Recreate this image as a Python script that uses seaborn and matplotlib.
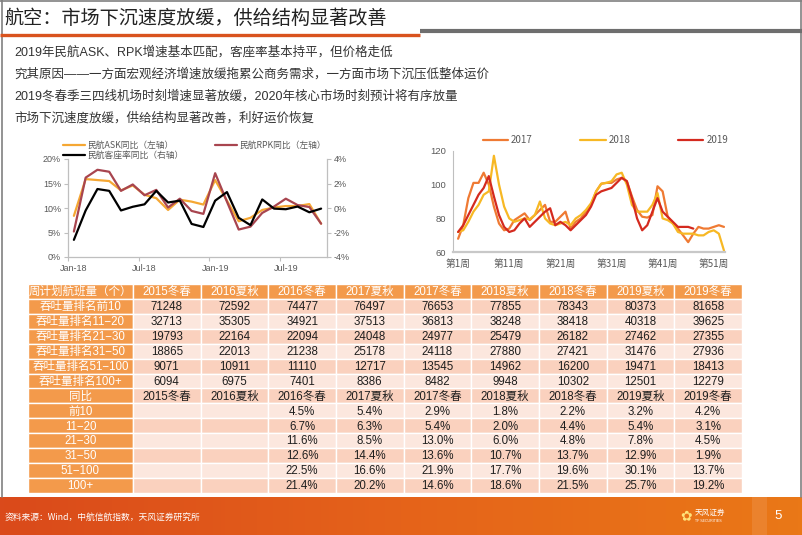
import numpy as np
import pandas as pd
import seaborn as sns
import matplotlib.pyplot as plt
from matplotlib.patches import Rectangle
from matplotlib.lines import Line2D
from matplotlib.colors import LinearSegmentedColormap

W, H = 802, 535
CJK = ['Noto Sans CJK SC', 'DejaVu Sans']
LAT = ['Liberation Sans', 'Noto Sans CJK SC', 'DejaVu Sans']

#%% text
title = '航空：市场下沉速度放缓，供给结构显著改善'
bullets = ['2019年民航ASK、RPK增速基本匹配，客座率基本持平，但价格走低',
           '究其原因——一方面宏观经济增速放缓拖累公商务需求，一方面市场下沉压低整体运价',
           '2019冬春季三四线机场时刻增速显著放缓，2020年核心市场时刻预计将有序放量',
           '市场下沉速度放缓，供给结构显著改善，利好运价恢复']
source = '资料来源：Wind，中航信航指数，天风证券研究所'

#%% left chart: monthly yoy, Jan-18 .. Oct-19
months = pd.date_range('2018-01-01', periods=22, freq='MS').strftime('%b-%y').tolist()
ask = [8.4, 15.9, 15.7, 15.5, 13.6, 14.6, 12.7, 12.0, 9.6, 11.7, 11.3, 10.7,
       15.7, 11.5, 7.3, 8.0, 9.6, 10.1, 10.4, 10.4, 10.8, 6.8]
rpk = [5.2, 16.2, 17.8, 17.4, 13.5, 14.8, 12.6, 13.7, 10.1, 11.9, 9.4, 8.8,
       17.1, 11.3, 5.6, 6.2, 9.0, 10.3, 11.9, 10.6, 10.2, 6.8]
load = [-2.6, -0.2, 1.55, 1.4, -0.2, 0.1, 0.3, 1.4, 0.45, 0.6, -1.3, -1.55,
        0.6, 1.3, -0.8, -1.4, 0.7, -0.05, -0.1, 0.12, -0.35, -0.05]
left_labels = ['民航ASK同比（左轴）', '民航RPK同比（左轴）', '民航客座率同比（右轴）']

#%% right chart: weekly index
w2017 = [68, 76, 92, 101, 101, 107, 100, 87, 77, 73, 74, 79, 81, 83, 79, 82, 85, 88,
         78, 78, 81, 84, 74, 78, 80, 84, 88, 96, 100.5, 101, 101, 103, 104, 102, 93,
         85, 81, 80.5, 82, 99, 96, 81, 77, 74, 70, 66, 71, 75, 74, 74, 75, 76, 75]
w2018 = [72, 73, 78, 84, 88, 94, 96, 117, 100, 87, 80, 78, 79, 80, 79.5, 82, 90, 80,
         77, 76, 77, 78, 76, 80, 82, 85, 89, 96, 100.5, 101, 102, 106, 107, 100, 88,
         84, 84, 84, 88, 95, 80, 79, 77, 72, 71, 71, 71, 70, 70, 72, 73, 71, 61]
w2019 = [72, 76, 82, 88, 94, 98, 105, 93, 82, 75, 72, 73, 77, 80, 75, 78, 81, 84,
         86, 76, 78, 76, 73, 76, 79, 82, 87, 94, 96, 97, 98, 101, 104, 102, 92,
         80, 73, 76, 84, 92, 84, 81, 78, 75, 75, 75, 74]
week_ticks = [1, 11, 21, 31, 41, 51]

#%% table
periods = ['2015冬春', '2016夏秋', '2016冬春', '2017夏秋', '2017冬春',
           '2018夏秋', '2018冬春', '2019夏秋', '2019冬春']
groups = ['前10', '11−20', '21−30', '31−50', '51−100', '100+']
top10 = [71248, 72592, 74477, 76497, 76653, 77855, 78343, 80373, 81658]
r11_20 = [32713, 35305, 34921, 37513, 36813, 38248, 38418, 40318, 39625]
r21_30 = [19793, 22164, 22094, 24048, 24977, 25479, 26182, 27462, 27355]
r31_50 = [18865, 22013, 21238, 25178, 24118, 27880, 27421, 31476, 27936]
r51_100 = [9071, 10911, 11110, 12717, 13545, 14962, 16200, 19471, 18413]
r100p = [6094, 6975, 7401, 8386, 8482, 9948, 10302, 12501, 12279]
yoy_top10 = [4.5, 5.4, 2.9, 1.8, 2.2, 3.2, 4.2]
yoy_11_20 = [6.7, 6.3, 5.4, 2.0, 4.4, 5.4, 3.1]
yoy_21_30 = [11.6, 8.5, 13.0, 6.0, 4.8, 7.8, 4.5]
yoy_31_50 = [12.6, 14.4, 13.6, 10.7, 13.7, 12.9, 1.9]
yoy_51_100 = [22.5, 16.6, 21.9, 17.7, 19.6, 30.1, 13.7]
yoy_100p = [21.4, 20.2, 14.6, 18.6, 21.5, 25.7, 19.2]

#%% figure
sns.set_style('white')
plt.rcParams['font.family'] = CJK
plt.rcParams['axes.unicode_minus'] = False

fig = plt.figure(figsize=(W / 100, H / 100), dpi=100)


def px(x0, y0, x1, y1):
    return [x0 / W, 1 - y1 / H, (x1 - x0) / W, (y1 - y0) / H]


bg = fig.add_axes([0, 0, 1, 1], zorder=0)
cmap = LinearSegmentedColormap.from_list('foot', ['#DA4A1B', '#E5631A', '#EA7817'])
bg.imshow(np.linspace(0, 1, 200).reshape(1, -1), extent=(0, W, H, 497),
          aspect='auto', cmap=cmap)
bg.add_patch(Rectangle((752, 497), 15, 38, color='#EE8B3C', alpha=0.6, lw=0))
bg.set_xlim(0, W)
bg.set_ylim(H, 0)
bg.axis('off')

# frame and title bars
bg.plot([1.5, 1.5], [0, 497], color='#808080', lw=1.2)
bg.plot([800.5, 800.5], [0, 497], color='#808080', lw=1.2)
bg.plot([0, W], [0.8, 0.8], color='#808080', lw=1.2)
bg.plot([0, 420], [34.5, 34.5], color='#D9531E', lw=2.4, solid_capstyle='butt')
bg.plot([420, W], [30.5, 30.5], color='#6E6E6E', lw=3, solid_capstyle='butt')

bg.text(4, 18, title, fontsize=13.8, color='#222222', va='center', family=CJK)
for i, line in enumerate(bullets):
    bg.text(14, 52 + i * 22.3, line, fontsize=9.0, color='#333333', va='center', family=LAT)

bg.text(5, 517, source, fontsize=6.3, color='white', va='center', family=CJK)
bg.text(686, 516, '✿', fontsize=10, color='#FFE27A', va='center', ha='center', family=['DejaVu Sans'])
bg.text(695, 513, '天风证券', fontsize=5.5, color='white', va='center', family=CJK)
bg.text(695, 521, 'TF SECURITIES', fontsize=2.6, color='white', va='center', family=LAT)
bg.text(778, 516, '5', fontsize=9.5, color='white', va='center', ha='center', family=LAT)

#%% left chart
grey = '#BFBFBF'
tick_c = '#595959'
idx = np.arange(len(months))
ax1 = fig.add_axes(px(68, 159, 327, 257), zorder=2)
sns.lineplot(x=idx, y=ask, ax=ax1, color='#F5A733', lw=1.6)
sns.lineplot(x=idx, y=rpk, ax=ax1, color='#A8454F', lw=1.6)
ax1r = ax1.twinx()
sns.lineplot(x=idx, y=load, ax=ax1r, color='black', lw=1.6)

ax1.set_xlim(-0.5, len(months) - 0.5)
ax1.set_ylim(0, 20)
ax1.set_yticks([0, 5, 10, 15, 20])
ax1.set_yticklabels([f'{v}%' for v in [0, 5, 10, 15, 20]])
ax1r.set_ylim(-4, 4)
ax1r.set_yticks([-4, -2, 0, 2, 4])
ax1r.set_yticklabels([f'{v}%' for v in [-4, -2, 0, 2, 4]])
ax1.set_xticks([-0.5, 5.5, 11.5, 17.5])
ax1.set_xticklabels([])
ax1.set_xticks([0, 6, 12, 18], minor=True)
ax1.set_xticklabels([months[i] for i in [0, 6, 12, 18]], minor=True)
for a in (ax1, ax1r):
    a.set_xlabel('')
    a.set_ylabel('')
    a.set_facecolor('none')
    for s in a.spines.values():
        s.set_color(grey)
        s.set_linewidth(0.9)
    a.spines['top'].set_visible(False)
    a.tick_params(labelsize=6.5, labelcolor=tick_c, color=grey, length=3, width=0.8, pad=2)
ax1.spines['right'].set_visible(False)
ax1r.spines['left'].set_visible(False)
ax1r.spines['bottom'].set_visible(False)
ax1.tick_params(axis='x', which='minor', length=0, labelsize=6.5, labelcolor=tick_c, pad=5)
ax1.tick_params(axis='x', which='major', bottom=True)
for t in ax1.get_xticklabels(minor=True) + ax1.get_yticklabels() + ax1r.get_yticklabels():
    t.set_family(LAT)

h_left = [Line2D([], [], color='#F5A733', lw=1.6), Line2D([], [], color='black', lw=1.6),
          Line2D([], [], color='#A8454F', lw=1.6)]
fig.legend(h_left, [left_labels[0], left_labels[2], left_labels[1]], ncol=2,
           loc='upper left', bbox_to_anchor=(55 / W, 1 - 133 / H), frameon=False,
           fontsize=6.3, handlelength=2.5, handletextpad=0.3, columnspacing=3.6,
           labelspacing=0.15, labelcolor='#595959')

#%% right chart
df = pd.concat([
    pd.DataFrame({'week': np.arange(1, len(v) + 1), 'value': v, 'year': y})
    for y, v in [('2017', w2017), ('2018', w2018), ('2019', w2019)]
])
pal = {'2017': '#EF7A33', '2018': '#F7B824', '2019': '#D42A1F'}
ax2 = fig.add_axes(px(453, 150.7, 725, 252.3), zorder=2)
sns.lineplot(data=df, x='week', y='value', hue='year', palette=pal, lw=1.6,
             legend=False, ax=ax2)
ax2.set_xlim(0, 53.2)
ax2.set_ylim(60, 120)
ax2.set_yticks([60, 80, 100, 120])
ax2.set_xticks(week_ticks)
ax2.set_xticklabels([f'第{w}周' for w in week_ticks])
ax2.set_xlabel('')
ax2.set_ylabel('')
ax2.set_facecolor('none')
for s in ['top', 'right']:
    ax2.spines[s].set_visible(False)
ax2.spines['left'].set_color(grey)
ax2.spines['bottom'].set_color('#C8C8C8')
ax2.spines['bottom'].set_linewidth(1.6)
ax2.tick_params(axis='y', labelsize=6.8, labelcolor=tick_c, color=grey, length=3, pad=2)
ax2.tick_params(axis='x', labelsize=7, labelcolor=tick_c, length=0, pad=5)
for t in ax2.get_yticklabels():
    t.set_family(LAT)

h_right = [Line2D([], [], color=pal[y], lw=1.6) for y in pal]
fig.legend(h_right, list(pal), ncol=3, loc='center left',
           bbox_to_anchor=(474 / W, 1 - 140 / H), frameon=False, fontsize=7,
           handlelength=2.6, handletextpad=0.3, columnspacing=4.9, labelcolor='#595959')

#%% table
rows = [('周计划航班量（个）', periods)]
for g, vals in zip(groups, [top10, r11_20, r21_30, r31_50, r51_100, r100p]):
    rows.append(('吞吐量排名' + g, [str(v) for v in vals]))
rows.append(('同比', periods))
for g, vals in zip(groups, [yoy_top10, yoy_11_20, yoy_21_30, yoy_31_50, yoy_51_100, yoy_100p]):
    rows.append((g, ['', ''] + [f'{v:.1f}%' for v in vals]))

lab_w = 1.55
tab = fig.add_axes(px(28, 284, 742, 493), zorder=2)
tab.set_xlim(0, lab_w + len(periods))
tab.set_ylim(len(rows), 0)
tab.axis('off')
orange = '#F39A4B'
for r, (lab, cells) in enumerate(rows):
    fill = orange if r == 0 else ('#FAD1BE' if r % 2 == 1 else '#FCE7DE')
    tab.add_patch(Rectangle((0, r), lab_w, 1, fc=orange, ec='white', lw=1.0))
    tab.text(lab_w / 2, r + 0.55, lab, ha='center', va='center', color='white',
             fontsize=8.3, family=LAT)
    for c, txt in enumerate(cells):
        x0 = lab_w + c
        tab.add_patch(Rectangle((x0, r), 1, 1, fc=fill, ec='white', lw=1.0))
        tab.text(x0 + 0.5, r + 0.55, txt, ha='center', va='center',
                 color='white' if r == 0 else '#1F1F1F', fontsize=8.3, family=LAT)

fig.savefig('out.png', dpi=100)
